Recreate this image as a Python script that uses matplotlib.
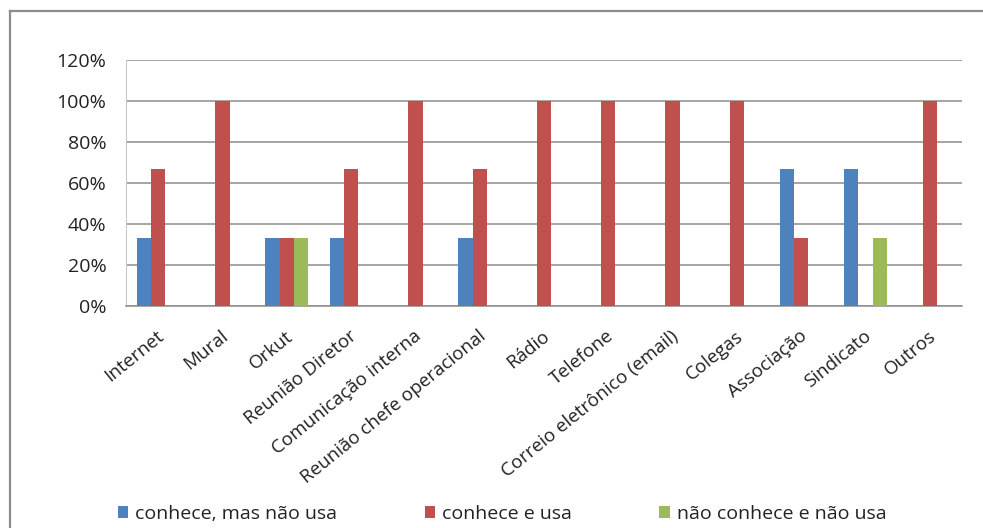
import matplotlib
matplotlib.use("Agg")
import matplotlib.pyplot as plt
from matplotlib.lines import Line2D
from matplotlib.ticker import FuncFormatter, MultipleLocator
from matplotlib.transforms import offset_copy
import numpy as np

plt.rcParams['font.family'] = ['Open Sans', 'DejaVu Sans']

categories = ["Internet", "Mural", "Orkut", "Reunião Diretor", "Comunicação interna",
              "Reunião chefe operacional", "Rádio", "Telefone",
              "Correio eletrônico (email)", "Colegas", "Associação", "Sindicato", "Outros"]
series_names = ["conhece, mas não usa", "conhece e usa", "não conhece e não usa"]
conhece_nao_usa = [33.3, 0, 33.3, 33.3, 0, 33.3, 0, 0, 0, 0, 66.7, 66.7, 0]
conhece_usa = [66.7, 100, 33.3, 66.7, 100, 66.7, 100, 100, 100, 100, 33.3, 0, 100]
nao_conhece = [0, 0, 33.3, 0, 0, 0, 0, 0, 0, 0, 0, 33.3, 0]
colors = ["#4F81BD", "#C0504D", "#9BBB59"]

W, H = 983, 528
fig = plt.figure(figsize=(W / 100, H / 100), dpi=100)
ax = fig.add_axes([126 / W, 1 - 306 / H, (962 - 126) / W, (306 - 60) / H])

x = np.arange(len(categories))
bw = 1 / 4.5
handles = []
for i, (vals, name, c) in enumerate(zip([conhece_nao_usa, conhece_usa, nao_conhece],
                                        series_names, colors)):
    b = ax.bar(x + (i - 1) * bw, vals, width=bw, color=c, label=name, zorder=3)
    handles.append(b)

ax.set_xlim(-0.5, len(categories) - 0.5)
ax.set_ylim(0, 120)
ax.yaxis.set_major_locator(MultipleLocator(20))
ax.yaxis.set_major_formatter(FuncFormatter(lambda v, p: f"{v:.0f}%"))
ax.grid(axis='y', color='#8c8c8c', linewidth=1.1, zorder=0)
ax.tick_params(axis='y', length=0, pad=14, labelsize=14, colors='#222222')
ax.tick_params(axis='x', length=0)
ax.set_xticks(x)
ax.set_xticklabels([])
for s in ['top', 'right']:
    ax.spines[s].set_visible(False)
ax.spines['left'].set_color('#c8c8c8')
ax.spines['bottom'].set_color('#8c8c8c')
ax.spines['bottom'].set_linewidth(1.1)

# slanted category labels anchored at their upper right corner below each group
for xi, lab in zip(x, categories):
    tr = offset_copy(ax.get_xaxis_transform(), fig=fig, x=-2, y=-21, units='dots')
    ax.text(xi, 0, lab, transform=tr, rotation=39, rotation_mode='anchor',
            ha='right', va='top', fontsize=13.5, color='#222222')

fig.legend(handles=handles, labels=series_names, loc='center',
           bbox_to_anchor=(502 / W, 1 - 514 / H), ncol=3, frameon=False,
           fontsize=14, handlelength=0.55, handleheight=0.55, handletextpad=0.35,
           columnspacing=4.5, labelcolor='#222222')

# outer chart frame (left and top edges)
fx = 10 / W
fy = 1 - 11 / H
fig.add_artist(Line2D([fx, fx], [0, fy], color='#8c8c8c', linewidth=1.6))
fig.add_artist(Line2D([fx, 1], [fy, fy], color='#8c8c8c', linewidth=1.6))

fig.savefig("out.png", dpi=100, facecolor='white')
